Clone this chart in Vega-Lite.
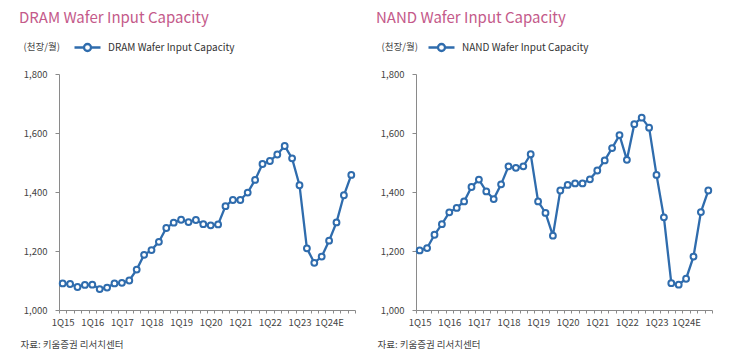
{
  "$schema": "https://vega.github.io/schema/vega-lite/v6.json",
  "padding": {"left": 19, "top": 11, "right": 5, "bottom": 5},
  "spacing": 17,
  "background": "white",
  "config": {
    "view": {"stroke": null},
    "font": "Noto Sans CJK KR",
    "axis": {"domainColor": "#8a8a8a", "tickColor": "#8a8a8a", "labelColor": "#444444", "labelFont": "Noto Sans CJK KR", "titleFont": "Noto Sans CJK KR", "grid": false},
    "title": {"font": "Noto Sans CJK KR", "fontSize": 15, "fontWeight": "normal", "color": "#c45a8a", "anchor": "start", "frame": "group", "dx": -40, "offset": 7},
    "legend": {"labelFont": "Noto Sans CJK KR"}
  },
  "datasets": {
    "dram": [
      {"q": "1Q15", "v": 1090}, {"q": "2Q15", "v": 1088}, {"q": "3Q15", "v": 1078}, {"q": "4Q15", "v": 1085},
      {"q": "1Q16", "v": 1086}, {"q": "2Q16", "v": 1071}, {"q": "3Q16", "v": 1076}, {"q": "4Q16", "v": 1090},
      {"q": "1Q17", "v": 1092}, {"q": "2Q17", "v": 1100}, {"q": "3Q17", "v": 1137}, {"q": "4Q17", "v": 1187},
      {"q": "1Q18", "v": 1203}, {"q": "2Q18", "v": 1231}, {"q": "3Q18", "v": 1278}, {"q": "4Q18", "v": 1296},
      {"q": "1Q19", "v": 1306}, {"q": "2Q19", "v": 1298}, {"q": "3Q19", "v": 1305}, {"q": "4Q19", "v": 1291},
      {"q": "1Q20", "v": 1287}, {"q": "2Q20", "v": 1290}, {"q": "3Q20", "v": 1352}, {"q": "4Q20", "v": 1373},
      {"q": "1Q21", "v": 1373}, {"q": "2Q21", "v": 1398}, {"q": "3Q21", "v": 1441}, {"q": "4Q21", "v": 1495},
      {"q": "1Q22", "v": 1505}, {"q": "2Q22", "v": 1527}, {"q": "3Q22", "v": 1556}, {"q": "4Q22", "v": 1514},
      {"q": "1Q23", "v": 1423}, {"q": "2Q23", "v": 1209}, {"q": "3Q23", "v": 1160}, {"q": "4Q23", "v": 1181},
      {"q": "1Q24E", "v": 1235}, {"q": "2Q24E", "v": 1297}, {"q": "3Q24E", "v": 1389}, {"q": "4Q24E", "v": 1458}
    ],
    "nand": [
      {"q": "1Q15", "v": 1202}, {"q": "2Q15", "v": 1210}, {"q": "3Q15", "v": 1255}, {"q": "4Q15", "v": 1291},
      {"q": "1Q16", "v": 1331}, {"q": "2Q16", "v": 1346}, {"q": "3Q16", "v": 1368}, {"q": "4Q16", "v": 1417},
      {"q": "1Q17", "v": 1442}, {"q": "2Q17", "v": 1402}, {"q": "3Q17", "v": 1376}, {"q": "4Q17", "v": 1426},
      {"q": "1Q18", "v": 1487}, {"q": "2Q18", "v": 1482}, {"q": "3Q18", "v": 1487}, {"q": "4Q18", "v": 1528},
      {"q": "1Q19", "v": 1368}, {"q": "2Q19", "v": 1329}, {"q": "3Q19", "v": 1252}, {"q": "4Q19", "v": 1405},
      {"q": "1Q20", "v": 1424}, {"q": "2Q20", "v": 1429}, {"q": "3Q20", "v": 1429}, {"q": "4Q20", "v": 1443},
      {"q": "1Q21", "v": 1473}, {"q": "2Q21", "v": 1507}, {"q": "3Q21", "v": 1549}, {"q": "4Q21", "v": 1593},
      {"q": "1Q22", "v": 1509}, {"q": "2Q22", "v": 1630}, {"q": "3Q22", "v": 1652}, {"q": "4Q22", "v": 1618},
      {"q": "1Q23", "v": 1458}, {"q": "2Q23", "v": 1314}, {"q": "3Q23", "v": 1091}, {"q": "4Q23", "v": 1086},
      {"q": "1Q24E", "v": 1106}, {"q": "2Q24E", "v": 1181}, {"q": "3Q24E", "v": 1332}, {"q": "4Q24E", "v": 1405}
    ]
  },
  "resolve": {"scale": {"color": "independent", "x": "independent", "y": "independent"}, "legend": {"color": "independent"}},
  "hconcat": [
    {
      "title": {"text": "DRAM Wafer Input Capacity"},
      "width": 296,
      "height": 236,
      "data": {"name": "dram"},
      "mark": {"type": "line", "strokeWidth": 2.3, "point": {"filled": false, "fill": "white", "size": 34, "strokeWidth": 2}},
      "encoding": {
        "x": {"field": "q", "type": "ordinal", "sort": null, "scale": {"type": "band", "paddingInner": 0, "paddingOuter": 0},
          "axis": {"labelExpr": "indexof(datum.label, '1Q') == 0 ? datum.label : ''", "labelAngle": 0, "labelOverlap": false, "labelFontSize": 9.5, "labelPadding": 4, "tickBand": "extent", "tickSize": 3,
            "title": "자료: 키움증권 리서치센터", "titleFontSize": 9.5, "titleFontWeight": "normal", "titleColor": "#444444", "titleAnchor": "start", "titleAlign": "left", "titleBaseline": "middle", "titleX": -39, "titleY": 34}},
        "y": {"field": "v", "type": "quantitative", "scale": {"domain": [1000, 1800]},
          "axis": {"values": [1000, 1200, 1400, 1600, 1800], "format": ",.0f", "labelFontSize": 9.5, "tickSize": 4, "labelPadding": 8,
            "title": "(천장/월)", "titleAngle": 0, "titleFontSize": 9.5, "titleFontWeight": "normal", "titleColor": "#444444", "titleAlign": "left", "titleBaseline": "middle", "titleX": -36, "titleY": -28}},
        "color": {"datum": "DRAM Wafer Input Capacity", "scale": {"range": ["#2f6cad"]},
          "legend": {"title": null, "orient": "none", "legendX": 14, "legendY": -41, "padding": 0, "symbolType": "M-1,0L-0.27,0M0.27,0L1,0M0.27,0A0.27,0.27 0 1,1 -0.27,0A0.27,0.27 0 1,1 0.27,0Z", "symbolSize": 676, "symbolStrokeWidth": 2.3, "symbolFillColor": "white", "symbolStrokeColor": "#2f6cad", "labelFontSize": 10, "labelColor": "#333333", "labelOffset": 6}}
      }
    },
    {
      "title": {"text": "NAND Wafer Input Capacity"},
      "width": 296,
      "height": 236,
      "data": {"name": "nand"},
      "mark": {"type": "line", "strokeWidth": 2.3, "point": {"filled": false, "fill": "white", "size": 34, "strokeWidth": 2}},
      "encoding": {
        "x": {"field": "q", "type": "ordinal", "sort": null, "scale": {"type": "band", "paddingInner": 0, "paddingOuter": 0},
          "axis": {"labelExpr": "indexof(datum.label, '1Q') == 0 ? datum.label : ''", "labelAngle": 0, "labelOverlap": false, "labelFontSize": 9.5, "labelPadding": 4, "tickBand": "extent", "tickSize": 3,
            "title": "자료: 키움증권 리서치센터", "titleFontSize": 9.5, "titleFontWeight": "normal", "titleColor": "#444444", "titleAnchor": "start", "titleAlign": "left", "titleBaseline": "middle", "titleX": -39, "titleY": 34}},
        "y": {"field": "v", "type": "quantitative", "scale": {"domain": [1000, 1800]},
          "axis": {"values": [1000, 1200, 1400, 1600, 1800], "format": ",.0f", "labelFontSize": 9.5, "tickSize": 4, "labelPadding": 8,
            "title": "(천장/월)", "titleAngle": 0, "titleFontSize": 9.5, "titleFontWeight": "normal", "titleColor": "#444444", "titleAlign": "left", "titleBaseline": "middle", "titleX": -35, "titleY": -28}},
        "color": {"datum": "NAND Wafer Input Capacity", "scale": {"range": ["#2f6cad"]},
          "legend": {"title": null, "orient": "none", "legendX": 11, "legendY": -41, "padding": 0, "symbolType": "M-1,0L-0.27,0M0.27,0L1,0M0.27,0A0.27,0.27 0 1,1 -0.27,0A0.27,0.27 0 1,1 0.27,0Z", "symbolSize": 676, "symbolStrokeWidth": 2.3, "symbolFillColor": "white", "symbolStrokeColor": "#2f6cad", "labelFontSize": 10, "labelColor": "#333333", "labelOffset": 6}}
      }
    }
  ]
}
